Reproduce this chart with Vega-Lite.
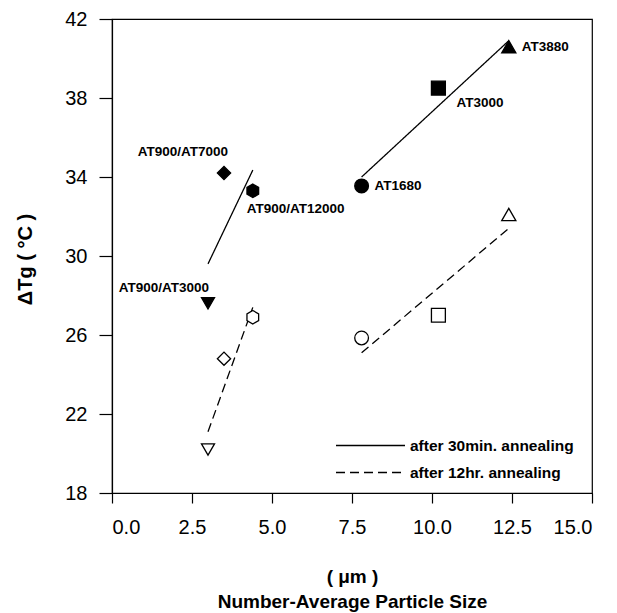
{
  "$schema": "https://vega.github.io/schema/vega-lite/v6.json",
  "width": 480,
  "height": 474,
  "autosize": "none",
  "padding": {"left": 112, "top": 19, "right": 25, "bottom": 120},
  "background": "white",
  "config": {
    "font": "Liberation Sans",
    "view": {"stroke": "black", "strokeWidth": 1.2},
    "axis": {
      "grid": false,
      "domainColor": "black",
      "domainWidth": 1.2,
      "tickColor": "black",
      "tickWidth": 1.2,
      "labelColor": "black",
      "titleColor": "black",
      "labelFont": "Liberation Sans",
      "titleFont": "Liberation Sans",
      "labelFontSize": 20,
      "titleFontSize": 19,
      "titleFontWeight": "bold"
    }
  },
  "datasets": {
    "points": [
      {"sample": "AT900/AT3000", "anneal": "after 30min. annealing", "particle_um": 3.0, "dTg": 27.6},
      {"sample": "AT900/AT7000", "anneal": "after 30min. annealing", "particle_um": 3.5, "dTg": 34.2},
      {"sample": "AT900/AT12000", "anneal": "after 30min. annealing", "particle_um": 4.4, "dTg": 33.3},
      {"sample": "AT1680", "anneal": "after 30min. annealing", "particle_um": 7.8, "dTg": 33.55},
      {"sample": "AT3000", "anneal": "after 30min. annealing", "particle_um": 10.2, "dTg": 38.5},
      {"sample": "AT3880", "anneal": "after 30min. annealing", "particle_um": 12.4, "dTg": 40.6},
      {"sample": "AT900/AT3000", "anneal": "after 12hr. annealing", "particle_um": 3.0, "dTg": 20.2},
      {"sample": "AT900/AT7000", "anneal": "after 12hr. annealing", "particle_um": 3.5, "dTg": 24.8},
      {"sample": "AT900/AT12000", "anneal": "after 12hr. annealing", "particle_um": 4.4, "dTg": 26.9},
      {"sample": "AT1680", "anneal": "after 12hr. annealing", "particle_um": 7.8, "dTg": 25.85},
      {"sample": "AT3000", "anneal": "after 12hr. annealing", "particle_um": 10.2, "dTg": 27.0},
      {"sample": "AT3880", "anneal": "after 12hr. annealing", "particle_um": 12.4, "dTg": 32.1}
    ],
    "fits": [
      {"fit": "blends 30min", "anneal": "after 30min. annealing", "particle_um": 3.0, "dTg": 29.6},
      {"fit": "blends 30min", "anneal": "after 30min. annealing", "particle_um": 4.4, "dTg": 34.35},
      {"fit": "single 30min", "anneal": "after 30min. annealing", "particle_um": 7.8, "dTg": 34.0},
      {"fit": "single 30min", "anneal": "after 30min. annealing", "particle_um": 12.4, "dTg": 40.9},
      {"fit": "blends 12hr", "anneal": "after 12hr. annealing", "particle_um": 3.0, "dTg": 21.1},
      {"fit": "blends 12hr", "anneal": "after 12hr. annealing", "particle_um": 4.4, "dTg": 27.4},
      {"fit": "single 12hr", "anneal": "after 12hr. annealing", "particle_um": 7.8, "dTg": 25.1},
      {"fit": "single 12hr", "anneal": "after 12hr. annealing", "particle_um": 12.4, "dTg": 31.4}
    ]
  },
  "encoding": {
    "x": {
      "field": "particle_um",
      "type": "quantitative",
      "scale": {"domain": [0, 15], "nice": false, "zero": false},
      "axis": {
        "values": [0, 2.5, 5, 7.5, 10, 12.5, 15],
        "format": ".1f",
        "tickSize": 10,
        "labelPadding": 14,
        "title": ["( μm )", "Number-Average Particle Size"],
        "titleX": 240,
        "titleY": 74,
        "titleAlign": "center",
        "titleBaseline": "top",
        "titleLineHeight": 25
      }
    },
    "y": {
      "field": "dTg",
      "type": "quantitative",
      "scale": {"domain": [18, 42], "nice": false, "zero": false},
      "axis": {
        "values": [18, 22, 26, 30, 34, 38, 42],
        "tickSize": 13,
        "labelPadding": 12,
        "title": "ΔTg ( °C )",
        "titleFontSize": 20,
        "titleX": -87,
        "titleY": 240,
        "titleAngle": -90,
        "titleAlign": "center",
        "titleBaseline": "middle"
      }
    }
  },
  "layer": [
    {
      "data": {"name": "fits"},
      "mark": {"type": "line", "stroke": "black", "strokeWidth": 1.3},
      "encoding": {
        "detail": {"field": "fit"},
        "strokeDash": {
          "field": "anneal",
          "type": "nominal",
          "scale": {
            "domain": ["after 30min. annealing", "after 12hr. annealing"],
            "range": [[1, 0], [9, 5]]
          },
          "legend": {
            "title": null,
            "orient": "none",
            "legendX": 223,
            "legendY": 413,
            "symbolType": "stroke",
            "symbolSize": 4761,
            "symbolStrokeWidth": 1.3,
            "symbolStrokeColor": "black",
            "clipHeight": 27,
            "rowPadding": 0,
            "padding": 0,
            "labelOffset": 4,
            "labelFont": "Liberation Sans",
            "labelFontSize": 15.5,
            "labelFontWeight": "bold",
            "labelColor": "black",
            "labelLimit": 300
          }
        }
      }
    },
    {
      "data": {"name": "points"},
      "mark": {"type": "point", "filled": true, "stroke": "black", "strokeWidth": 1.3, "opacity": 1},
      "encoding": {
        "shape": {
          "field": "sample",
          "type": "nominal",
          "scale": {
            "domain": ["AT900/AT3000", "AT900/AT7000", "AT900/AT12000", "AT1680", "AT3000", "AT3880"],
            "range": ["triangle-down", "diamond", "M0,-1L0.866,-0.5L0.866,0.5L0,1L-0.866,0.5L-0.866,-0.5Z", "circle", "square", "triangle-up"]
          },
          "legend": null
        },
        "size": {
          "field": "sample",
          "type": "nominal",
          "scale": {
            "domain": ["AT900/AT3000", "AT900/AT7000", "AT900/AT12000", "AT1680", "AT3000", "AT3880"],
            "range": [170, 200, 150, 140, 120, 170]
          },
          "legend": null
        },
        "fill": {
          "field": "anneal",
          "type": "nominal",
          "scale": {"domain": ["after 30min. annealing", "after 12hr. annealing"], "range": ["black", "white"]},
          "legend": null
        }
      }
    },
    {
      "data": {"name": "points"},
      "transform": [{"filter": "datum.anneal === 'after 30min. annealing' && datum.sample === 'AT900/AT3000'"}],
      "mark": {"type": "text", "align": "right", "baseline": "middle", "dx": 1, "dy": -15, "font": "Liberation Sans", "fontSize": 13.5, "fontWeight": "bold", "color": "black"},
      "encoding": {"text": {"field": "sample"}}
    },
    {
      "data": {"name": "points"},
      "transform": [{"filter": "datum.anneal === 'after 30min. annealing' && datum.sample === 'AT900/AT7000'"}],
      "mark": {"type": "text", "align": "right", "baseline": "middle", "dx": 4, "dy": -21, "font": "Liberation Sans", "fontSize": 13.5, "fontWeight": "bold", "color": "black"},
      "encoding": {"text": {"field": "sample"}}
    },
    {
      "data": {"name": "points"},
      "transform": [{"filter": "datum.anneal === 'after 30min. annealing' && datum.sample === 'AT900/AT12000'"}],
      "mark": {"type": "text", "align": "left", "baseline": "middle", "dx": -6, "dy": 18, "font": "Liberation Sans", "fontSize": 13.5, "fontWeight": "bold", "color": "black"},
      "encoding": {"text": {"field": "sample"}}
    },
    {
      "data": {"name": "points"},
      "transform": [{"filter": "datum.anneal === 'after 30min. annealing' && datum.sample === 'AT3000'"}],
      "mark": {"type": "text", "align": "left", "baseline": "middle", "dx": 18, "dy": 15, "font": "Liberation Sans", "fontSize": 13.5, "fontWeight": "bold", "color": "black"},
      "encoding": {"text": {"field": "sample"}}
    },
    {
      "data": {"name": "points"},
      "transform": [{"filter": "datum.anneal === 'after 30min. annealing' && (datum.sample === 'AT1680' || datum.sample === 'AT3880')"}],
      "mark": {"type": "text", "align": "left", "baseline": "middle", "dx": 13, "dy": 0, "font": "Liberation Sans", "fontSize": 13.5, "fontWeight": "bold", "color": "black"},
      "encoding": {"text": {"field": "sample"}}
    }
  ]
}
